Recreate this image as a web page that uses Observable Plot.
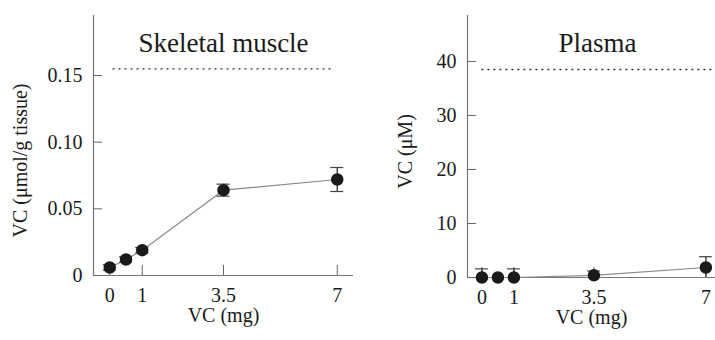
<!DOCTYPE html>
<html>
<head>
<meta charset="utf-8">
<script src="https://cdn.jsdelivr.net/npm/d3@7"></script>
<script src="https://cdn.jsdelivr.net/npm/@observablehq/plot@0.6"></script>
<style>
  html, body { margin: 0; padding: 0; background: #fff; }
  #wrap { display: flex; width: 715px; height: 340px; overflow: hidden; }
  svg { font-family: "Liberation Serif", "DejaVu Serif", serif; }
</style>
</head>
<body>
<div id="wrap"></div>
<script>
// Dose of VC (mg)
const doses = [0, 0.5, 1, 3.5, 7];
const doseTickValues = [0, 1, 3.5, 7];
const doseTickLabels = ["0", "1", "3.5", "7"];

// Skeletal muscle VC (µmol/g tissue)
const muscleMean = [0.006, 0.012, 0.019, 0.064, 0.072];
const muscleErr  = [0.002, 0.002, 0.002, 0.0045, 0.009];
const muscleRef  = 0.155;
const muscleTicks = [0, 0.05, 0.10, 0.15];
const muscleTickLabels = ["0", "0.05", "0.10", "0.15"];

// Plasma VC (µM)
const plasmaMean = [0, 0, 0, 0.4, 1.85];
const plasmaErr  = [1.6, 0, 1.6, 0.8, 2.0];
const plasmaRef  = 38.5;
const plasmaTicks = [0, 10, 20, 30, 40];

const lineGray = "#8a8a8a";
const ink = "#1a1a1a";

function panel({title, mean, err, ref, refRange, yDomain, yTicks, yFmt, yLabel, xDomain, width, marginLeft, marginRight, marginBottom, titleDx, labelX, labelDy}) {
  const data = doses.map((x, i) => ({x, y: mean[i], e: err[i]}));
  const capHalf = 0.2;
  return Plot.plot({
    width, height: 340,
    marginLeft, marginRight, marginTop: 15, marginBottom,
    style: {fontFamily: "Liberation Serif, serif", fontSize: "20px", color: ink, background: "white"},
    x: {domain: xDomain, label: null},
    y: {domain: yDomain, label: null},
    marks: [
      // axis lines
      Plot.ruleX([xDomain[0]], {stroke: "#777", strokeWidth: 1.2}),
      Plot.ruleY([yDomain[0]], {stroke: "#777", strokeWidth: 1.2}),
      // inward ticks
      Plot.axisY({ticks: yTicks, tickSize: -9, text: null, stroke: "#666", label: null}),
      Plot.axisY({ticks: yTicks, tickSize: 0, tickPadding: 11, tickFormat: yFmt, fill: ink, fontSize: 20, letterSpacing: "1.5px", label: null}),
      Plot.axisX({ticks: doseTickValues, tickSize: -10, text: null, stroke: "#666", label: null}),
      Plot.axisX({ticks: doseTickValues, tickSize: 0, tickPadding: 12, tickFormat: (d) => doseTickLabels[doseTickValues.indexOf(d)], fill: ink, fontSize: 20, letterSpacing: "1.5px", label: null}),
      // axis titles
      Plot.text([yLabel], {frameAnchor: "left", textAnchor: "middle", dx: labelX, dy: labelDy, rotate: -90, fontSize: 20, fill: ink, letterSpacing: "0.8px"}),
      Plot.text(["VC (mg)"], {frameAnchor: "bottom", textAnchor: "middle", dy: 46, fontSize: 20, fill: ink, letterSpacing: "1px"}),
      // title
      Plot.text([title], {frameAnchor: "top", dy: 17, dx: titleDx, fontSize: 27, fill: ink, letterSpacing: "2.5px"}),
      // reference dotted line
      Plot.ruleY([ref], {x1: refRange[0], x2: refRange[1], stroke: "#333", strokeWidth: 1.3, strokeDasharray: "2,4"}),
      // connecting line
      Plot.line(data, {x: "x", y: "y", stroke: lineGray, strokeWidth: 1.2}),
      // error bars
      Plot.ruleX(data.filter(d => d.e > 0), {x: "x", y1: d => Math.max(yDomain[0], d.y - d.e), y2: d => d.y + d.e, stroke: "#333", strokeWidth: 1.3}),
      Plot.ruleY(data.filter(d => d.e > 0), {y: d => d.y + d.e, x1: d => d.x - capHalf, x2: d => d.x + capHalf, stroke: "#444", strokeWidth: 1.2}),
      Plot.ruleY(data.filter(d => d.e > 0 && d.y - d.e > yDomain[0]), {y: d => d.y - d.e, x1: d => d.x - capHalf, x2: d => d.x + capHalf, stroke: "#444", strokeWidth: 1.2}),
      // points
      Plot.dot(data, {x: "x", y: "y", r: 5.5, fill: ink, stroke: ink})
    ]
  });
}

const wrap = document.getElementById("wrap");
wrap.append(panel({
  title: "Skeletal muscle",
  mean: muscleMean, err: muscleErr, ref: muscleRef, refRange: [0.1, 6.9],
  yDomain: [0, 0.195], yTicks: muscleTicks,
  yFmt: (d) => muscleTickLabels[muscleTicks.indexOf(d)],
  yLabel: "VC (μmol/g tissue)",
  xDomain: [-0.5, 7.5], width: 360, marginLeft: 93, marginRight: 7, marginBottom: 65,
  titleDx: 0, labelX: -73, labelDy: 15
}));
wrap.append(panel({
  title: "Plasma",
  mean: plasmaMean, err: plasmaErr, ref: plasmaRef, refRange: [0, 7.3],
  yDomain: [0, 48.5], yTicks: plasmaTicks,
  yFmt: (d) => String(d),
  yLabel: "VC (μM)",
  xDomain: [-0.45, 7.3], width: 355, marginLeft: 107, marginRight: 0, marginBottom: 63,
  titleDx: 6, labelX: -62, labelDy: 5
}));
</script>
</body>
</html>
